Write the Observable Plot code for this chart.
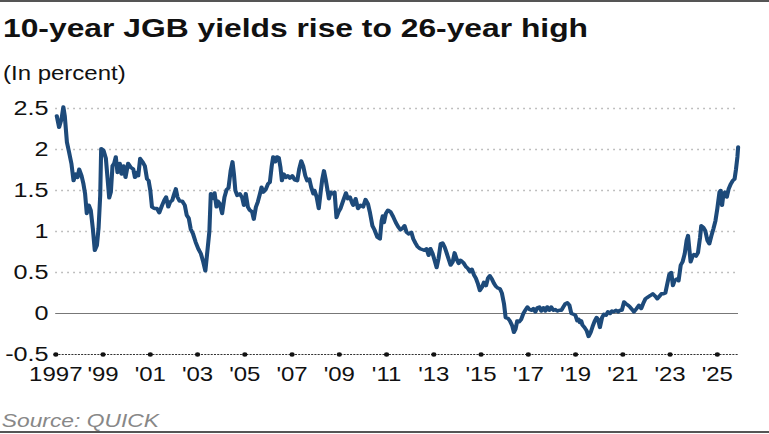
<!DOCTYPE html>
<html>
<head>
<meta charset="utf-8">
<script src="https://cdn.jsdelivr.net/npm/d3@7"></script>
<script src="https://cdn.jsdelivr.net/npm/@observablehq/plot@0.6"></script>
<style>
  html, body { margin: 0; padding: 0; background: #fff; overflow: hidden; }
  #wrap { position: relative; width: 641px; height: 434px; font-family: "Liberation Sans", Arial, sans-serif;
          transform: scaleX(1.2); transform-origin: 0 0; }
  .rule { position: absolute; left: 0; width: 641px; height: 2px; background: #555; }
  .txt { position: absolute; left: 2.5px; white-space: nowrap; }
  #title { top: 15px; font-size: 26.5px; line-height: 26.5px; font-weight: bold; color: #111; }
  #subtitle { top: 63px; font-size: 20px; line-height: 20px; color: #111; }
  #source { top: 411px; left: 1.5px; font-size: 19px; line-height: 19px; font-style: italic; color: #888; }
  #chart { position: absolute; left: 0; top: 90px; }
</style>
</head>
<body>
<div id="wrap">
  <div class="rule" style="top:0"></div>
  <div id="title" class="txt">10-year JGB yields rise to 26-year high</div>
  <div id="subtitle" class="txt">(In percent)</div>
  <div id="chart"></div>
  <div id="source" class="txt">Source: QUICK</div>
  <div class="rule" style="top:431px"></div>
</div>
<script>
const years = [
1997.04,1997.14,1997.24,1997.32,1997.38,1997.47,1997.56,1997.66,1997.75,1997.85,1997.92,1997.99,
1998.09,1998.17,1998.24,1998.31,1998.40,1998.48,1998.57,1998.65,1998.74,1998.81,1998.88,1998.92,
1999.02,1999.12,1999.19,1999.26,1999.33,1999.40,1999.47,1999.54,1999.61,1999.71,1999.78,1999.87,1999.95,
2000.06,2000.18,2000.28,2000.35,2000.43,2000.49,2000.57,2000.67,2000.77,2000.86,2000.93,
2001.00,2001.07,2001.17,2001.28,2001.38,2001.50,2001.59,2001.67,2001.76,2001.84,2001.93,2001.99,
2002.08,2002.15,2002.24,2002.35,2002.46,2002.54,2002.63,2002.71,2002.81,2002.92,
2003.03,2003.14,2003.24,2003.33,2003.43,2003.50,2003.56,2003.62,2003.72,2003.80,2003.86,2003.94,
2004.04,2004.14,2004.23,2004.31,2004.40,2004.48,2004.54,2004.60,2004.68,2004.79,2004.89,2004.96,
2005.04,2005.13,2005.21,2005.31,2005.38,2005.47,2005.55,2005.64,2005.71,2005.78,2005.88,2005.98,
2006.06,2006.14,2006.20,2006.29,2006.36,2006.44,2006.51,2006.57,2006.65,2006.74,2006.82,2006.91,
2007.01,2007.11,2007.22,2007.30,2007.39,2007.47,2007.56,2007.64,2007.73,2007.81,2007.90,2007.95,
2008.04,2008.13,2008.21,2008.28,2008.35,2008.42,2008.49,2008.56,2008.63,2008.71,2008.80,2008.88,2008.97,
2009.05,2009.17,2009.28,2009.36,2009.45,2009.55,2009.59,2009.69,2009.79,2009.90,
2010.01,2010.11,2010.21,2010.29,2010.40,2010.49,2010.61,2010.72,2010.79,2010.84,2010.89,2010.97,
2011.06,2011.17,2011.28,2011.39,2011.51,2011.59,2011.68,2011.76,2011.85,2011.94,
2012.05,2012.13,2012.22,2012.30,2012.41,2012.51,2012.61,2012.69,2012.78,2012.86,2012.95,
2013.03,2013.12,2013.20,2013.29,2013.37,2013.46,2013.54,2013.63,2013.71,2013.80,2013.88,2013.97,
2014.05,2014.13,2014.25,2014.36,2014.44,2014.53,2014.61,2014.70,2014.78,2014.87,2014.95,
2015.04,2015.12,2015.21,2015.29,2015.37,2015.46,2015.54,2015.63,2015.71,2015.80,2015.88,2015.97,
2016.04,2016.14,2016.22,2016.32,2016.39,2016.46,2016.53,2016.62,2016.70,2016.79,2016.87,2016.96,
2017.04,2017.13,2017.21,2017.30,2017.38,2017.47,2017.55,2017.64,2017.72,2017.80,2017.89,2017.97,
2018.06,2018.14,2018.23,2018.31,2018.40,2018.48,2018.57,2018.65,2018.74,2018.82,2018.91,2018.99,
2019.07,2019.13,2019.18,2019.24,2019.29,2019.38,2019.47,2019.55,2019.64,2019.72,2019.81,2019.89,2019.95,
2020.03,2020.12,2020.20,2020.29,2020.37,2020.46,2020.54,2020.62,2020.71,2020.80,2020.88,2020.96,
2021.05,2021.13,2021.22,2021.30,2021.39,2021.47,2021.58,2021.68,2021.78,2021.86,2021.96,
2022.06,2022.17,2022.27,2022.38,2022.46,2022.55,2022.63,2022.72,2022.80,2022.88,2022.97,
2023.05,2023.12,2023.19,2023.28,2023.36,2023.45,2023.53,2023.62,2023.70,2023.76,2023.82,2023.87,2023.94,
2024.01,2024.10,2024.18,2024.27,2024.32,2024.41,2024.49,2024.58,2024.66,2024.75,2024.83,2024.92,
2025.00,2025.09,2025.14,2025.20,2025.26,2025.32,2025.40,2025.48,2025.57,2025.65,2025.73,2025.79,2025.85,2025.88
];
const yields = [
2.41,2.27,2.37,2.52,2.41,2.09,1.97,1.83,1.62,1.70,1.66,1.76,
1.68,1.58,1.46,1.22,1.32,1.26,1.03,0.77,0.83,1.04,1.44,2.01,
1.99,1.89,1.65,1.41,1.48,1.80,1.83,1.91,1.72,1.83,1.70,1.80,1.66,
1.83,1.78,1.76,1.66,1.72,1.68,1.89,1.85,1.80,1.64,1.62,
1.50,1.30,1.28,1.28,1.23,1.32,1.38,1.42,1.30,1.36,1.38,1.44,
1.52,1.42,1.37,1.37,1.32,1.20,1.16,1.03,0.97,0.87,
0.79,0.73,0.63,0.52,0.80,1.00,1.46,1.40,1.47,1.30,1.37,1.34,
1.22,1.42,1.51,1.53,1.74,1.85,1.70,1.50,1.44,1.46,1.41,1.32,
1.46,1.30,1.26,1.24,1.15,1.30,1.36,1.46,1.54,1.48,1.51,1.58,
1.60,1.80,1.91,1.85,1.91,1.90,1.78,1.62,1.70,1.66,1.68,1.65,
1.68,1.63,1.62,1.76,1.86,1.80,1.68,1.62,1.64,1.54,1.46,1.50,
1.42,1.28,1.48,1.64,1.74,1.64,1.52,1.40,1.48,1.46,1.48,1.17,1.24,
1.28,1.38,1.47,1.40,1.42,1.34,1.32,1.40,1.28,1.32,
1.30,1.39,1.34,1.24,1.07,1.02,0.93,0.91,1.13,1.19,1.11,1.22,
1.26,1.24,1.18,1.11,1.05,1.02,1.04,1.07,0.99,0.97,
0.99,0.91,0.86,0.82,0.79,0.78,0.77,0.79,0.71,0.79,0.73,
0.65,0.56,0.67,0.85,0.86,0.81,0.74,0.66,0.59,0.63,0.74,0.66,
0.61,0.65,0.62,0.57,0.55,0.51,0.54,0.47,0.43,0.36,0.28,
0.32,0.38,0.34,0.43,0.46,0.42,0.37,0.33,0.31,0.30,0.25,0.12,
-0.05,-0.06,-0.09,-0.15,-0.23,-0.19,-0.09,-0.10,-0.07,0.00,0.04,0.08,
0.05,0.04,0.06,0.02,0.07,0.08,0.03,0.07,0.03,0.08,0.04,0.08,
0.04,0.05,0.03,0.04,0.04,0.08,0.12,0.13,0.10,0.00,-0.01,-0.02,
-0.09,-0.07,-0.11,-0.09,-0.14,-0.17,-0.21,-0.28,-0.23,-0.16,-0.09,-0.05,-0.07,
-0.17,-0.05,-0.01,-0.02,0.02,0.00,0.03,0.02,0.04,0.02,0.04,0.04,
0.14,0.12,0.10,0.08,0.05,0.02,0.06,0.10,0.06,0.12,0.18,
0.20,0.22,0.24,0.21,0.18,0.21,0.24,0.24,0.25,0.36,0.48,
0.50,0.34,0.40,0.42,0.40,0.59,0.63,0.73,0.89,0.95,0.77,0.63,0.69,
0.72,0.70,0.74,0.93,1.07,1.05,1.01,0.89,0.85,0.95,1.03,1.13,
1.28,1.48,1.50,1.32,1.46,1.48,1.42,1.52,1.58,1.62,1.64,1.76,1.91,2.03
];
const xTicks = [1997,1999,2001,2003,2005,2007,2009,2011,2013,2015,2017,2019,2021,2023,2025];
const yTicks = [-0.5,0,0.5,1,1.5,2,2.5];
const gridValues = [0.5,1,1.5,2,2.5];

const data = years.map((x, i) => ({x, y: yields[i]}));

const chart = Plot.plot({
  width: 641,
  height: 310,
  marginLeft: 46,
  marginRight: 26,
  marginTop: 18,
  marginBottom: 46,
  style: {fontFamily: "'Liberation Sans', Arial, sans-serif", color: "#111", background: "transparent", overflow: "visible"},
  x: {domain: [1997, 2025.9], label: null},
  y: {domain: [-0.5, 2.5], label: null},
  marks: [
    Plot.ruleY(gridValues, {stroke: "#b5b5b5", strokeWidth: 1.4, strokeDasharray: "1.4,3.6"}),
    Plot.ruleY([0], {stroke: "#777", strokeWidth: 1}),
    Plot.ruleY([-0.5], {stroke: "#333", strokeWidth: 1, strokeDasharray: "1.7,1"}),
    Plot.dot(xTicks, {x: d => d, y: () => -0.5, r: 2.2, fill: "#111", stroke: "none"}),
    Plot.line(data, {x: "x", y: "y", stroke: "#1d4a7a", strokeWidth: 3.4, strokeLinejoin: "round", strokeLinecap: "round"}),
    Plot.axisY(yTicks, {tickSize: 0, tickPadding: 6, fontSize: 21, label: null, tickFormat: d => String(d)}),
    Plot.axisX(xTicks, {tickSize: 0, tickPadding: 12, fontSize: 20, label: null, tickFormat: d => d === 1997 ? "1997" : "'" + String(d).slice(2)})
  ]
});
document.getElementById("chart").appendChild(chart);
</script>
</body>
</html>
